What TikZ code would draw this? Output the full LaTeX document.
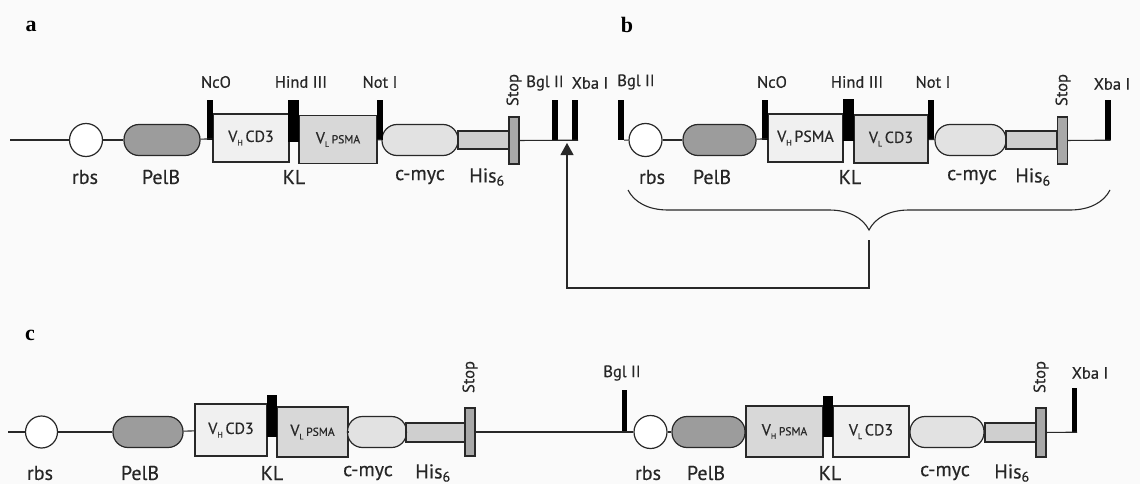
\documentclass[tikz,border=0pt]{standalone}
\usepackage{fontspec}
\setmainfont{PT Sans}
\newfontfamily\labelfont{PT Sans}[FakeBold=0.4]
\newfontfamily\panelfont{Liberation Serif}
\usetikzlibrary{arrows.meta,positioning,decorations.pathreplacing}
\definecolor{bggray}{RGB}{250,250,250}
\definecolor{linegray}{RGB}{40,40,40}
\definecolor{pelbgray}{RGB}{156,156,156}
\definecolor{cdlight}{RGB}{240,240,240}
\definecolor{psmadark}{RGB}{216,216,216}
\definecolor{myclight}{RGB}{226,226,226}
\definecolor{hisgray}{RGB}{207,207,207}
\definecolor{stopgray}{RGB}{168,168,168}
\newcommand{\vsub}[1]{\raisebox{-0.45ex}{\fontsize{8}{9}\selectfont #1}}
\newcommand{\psmasmall}{{\fontsize{11.5}{13}\selectfont PSMA}}
\tikzset{
    backbone/.style={draw=linegray, line width=1.1pt},
    rbsnode/.style={circle, draw=linegray, line width=1.2pt, fill=white, minimum size=33pt, inner sep=0pt},
    pillnode/.style={draw=linegray, line width=1.2pt, rounded corners=15pt, minimum height=31pt, inner sep=0pt},
    vbox/.style={draw=linegray, line width=1.2pt, minimum height=48pt, inner sep=0pt, text=linegray, font=\labelfont\fontsize{16}{18}\selectfont},
    hisbox/.style={draw=linegray, line width=1.2pt, fill=hisgray, minimum height=18pt, inner sep=0pt},
    stopbar/.style={draw=linegray, line width=1.2pt, fill=stopgray, minimum width=10pt, minimum height=47pt, inner sep=0pt},
    sitebar/.style={fill=black, minimum width=6pt, minimum height=40pt, inner sep=0pt},
    klbar/.style={fill=black, minimum width=11pt, minimum height=42pt, inner sep=0pt},
    partlabel/.style={font=\labelfont\fontsize{20}{22}\selectfont, text=black!85, inner sep=0pt},
    sitelabel/.style={font=\labelfont\fontsize{16.5}{18}\selectfont, text=black!85, inner sep=0pt},
    panellabel/.style={font=\panelfont\bfseries\fontsize{22}{24}\selectfont, inner sep=0pt},
    linkarrow/.style={draw=linegray, line width=1.1pt, -{Triangle[width=13pt,length=12pt]}}
}

\begin{document}
\begin{tikzpicture}[x=1pt, y=-1pt]
    \fill[bggray] (0,0) rectangle (1140,484);
    \useasboundingbox (0,0) rectangle (1140,484);

    % panel a
    \node[panellabel] (a-tag) at (31,26) {a};
    \coordinate (a-start) at (10,140);
    \node[rbsnode] (a-rbs) at (86,140) {};
    \node[pillnode, minimum width=76pt, fill=pelbgray] (a-pelb) at (162,140) {};
    \node[vbox, minimum width=76pt, fill=cdlight] (a-vh) at (251,138) {V\vsub{H}\,CD3};
    \node[vbox, minimum width=78pt, fill=psmadark] (a-vl) at (338,139.5) {V\vsub{L}\,\psmasmall};
    \node[pillnode, minimum width=76pt, fill=myclight] (a-myc) at (420,140) {};
    \node[hisbox, minimum width=52pt] (a-his) at (484,140) {};
    \node[stopbar] (a-stop) at (514,140.5) {};
    \node[sitebar] (a-nco) at (210,120) {};
    \node[klbar] (a-kl) at (293.5,121) {};
    \node[sitebar] (a-not) at (379.5,120) {};
    \node[sitebar] (a-bgl) at (555,120) {};
    \node[sitebar] (a-xba) at (575,120) {};
    \coordinate (a-insert) at (567,143);
    \foreach \p/\q in {a-start/a-rbs, a-rbs/a-pelb, a-pelb/a-vh, a-vl/a-myc, a-myc/a-his}
        \draw[backbone] (\p) -- (\q);
    \draw[backbone] (a-stop) -- (a-xba.south east);

    \node[sitelabel] (a-nco-l) at (216,82) {NcO};
    \node[sitelabel] (a-kl-l) at (301,82) {Hind III};
    \node[sitelabel] (a-not-l) at (380,82) {Not I};
    \node[sitelabel, rotate=90] (a-stop-l) at (514,90) {Stop};
    \node[sitelabel] (a-bgl-l) at (545,83) {Bgl II};
    \node[sitelabel] (a-xba-l) at (590,83) {Xba I};
    \node[partlabel] (a-rbs-l) at (85,177) {rbs};
    \node[partlabel] (a-pelb-l) at (161,177) {PelB};
    \node[partlabel] (a-kl-b) at (294,177) {KL};
    \node[partlabel] (a-myc-l) at (420,177) {c-myc};
    \node[partlabel] (a-his-l) at (487,177) {His\textsubscript{6}};

    % panel b
    \node[panellabel] (b-tag) at (627,25) {b};
    \node[sitebar] (b-bgl) at (621,120) {};
    \node[rbsnode] (b-rbs) at (645.5,140) {};
    \node[pillnode, minimum width=73pt, fill=pelbgray] (b-pelb) at (719.5,140) {};
    \node[vbox, minimum width=75pt, fill=cdlight] (b-vh) at (805.5,138) {V\vsub{H}\,PSMA};
    \node[vbox, minimum width=74pt, fill=psmadark] (b-vl) at (891,139) {V\vsub{L}\,CD3};
    \node[pillnode, minimum width=71pt, fill=myclight] (b-myc) at (970.5,140) {};
    \node[hisbox, minimum width=51pt] (b-his) at (1031.5,140) {};
    \node[stopbar] (b-stop) at (1062.5,140.5) {};
    \node[sitebar] (b-nco) at (765,120) {};
    \node[klbar] (b-kl) at (848.5,120) {};
    \node[sitebar] (b-not) at (931,120) {};
    \node[sitebar] (b-xba) at (1107.5,120) {};
    \draw[backbone] (b-bgl.south east) -- (b-rbs);
    \foreach \p/\q in {b-rbs/b-pelb, b-pelb/b-vh, b-vl/b-myc, b-myc/b-his}
        \draw[backbone] (\p) -- (\q);
    \draw[backbone] (b-stop) -- (b-xba.south east);

    \node[sitelabel] (b-bgl-l) at (636,82) {Bgl II};
    \node[sitelabel] (b-nco-l) at (772,82) {NcO};
    \node[sitelabel] (b-kl-l) at (857,82) {Hind III};
    \node[sitelabel] (b-not-l) at (933,82) {Not I};
    \node[sitelabel, rotate=90] (b-stop-l) at (1063,90) {Stop};
    \node[sitelabel] (b-xba-l) at (1112,84) {Xba I};
    \node[partlabel] (b-rbs-l) at (652,177) {rbs};
    \node[partlabel] (b-pelb-l) at (712,177) {PelB};
    \node[partlabel] (b-kl-b) at (850,177) {KL};
    \node[partlabel] (b-myc-l) at (972,177) {c-myc};
    \node[partlabel] (b-his-l) at (1033,177) {His\textsubscript{6}};

    % brace and insertion arrow
    \coordinate (b-brace-l) at (628,190);
    \coordinate (b-brace-r) at (1110,190);
    \coordinate (b-brace-tip) at (869,240);
    \draw[backbone, decorate, decoration={brace, mirror, amplitude=40pt}] (b-brace-l) -- (b-brace-r);
    \draw[linkarrow] (b-brace-tip) -- ++(0,48) -| (a-insert);

    % panel c
    \node[panellabel] (c-tag) at (30,335) {c};
    \coordinate (c-start) at (8,432);
    \node[rbsnode, minimum size=32pt] (c-rbs) at (41.5,432) {};
    \node[pillnode, minimum width=70pt, fill=pelbgray] (c-pelb) at (148,432) {};
    \node[vbox, minimum width=72pt, minimum height=52pt, fill=cdlight] (c-vh) at (231,430) {V\vsub{H}\,CD3};
    \node[vbox, minimum width=71pt, minimum height=50pt, fill=psmadark] (c-vl) at (312.5,432) {V\vsub{L}\,\psmasmall};
    \node[pillnode, minimum width=59pt, fill=myclight] (c-myc) at (377,432) {};
    \node[hisbox, minimum width=59pt, minimum height=19pt] (c-his) at (435.5,432.5) {};
    \node[stopbar, minimum height=48pt] (c-stop) at (470,432) {};
    \node[klbar, minimum width=10pt] (c-kl) at (272,416) {};
    \node[sitebar, minimum width=5pt, minimum height=42pt] (c-bgl) at (624.5,411) {};
    \node[rbsnode] (c-rbs2) at (650.5,432) {};
    \node[pillnode, minimum width=73pt, fill=pelbgray] (c-pelb2) at (708.5,432) {};
    \node[vbox, minimum width=77pt, minimum height=51pt, fill=psmadark] (c-vh2) at (784.5,431.5) {V\vsub{H}\,\psmasmall};
    \node[vbox, minimum width=76pt, minimum height=51pt, fill=cdlight] (c-vl2) at (871,431.5) {V\vsub{L}\,CD3};
    \node[pillnode, minimum width=74pt, fill=myclight] (c-myc2) at (947,432) {};
    \node[hisbox, minimum width=52pt, minimum height=19pt] (c-his2) at (1011,432.5) {};
    \node[stopbar, minimum height=49pt] (c-stop2) at (1041,432.5) {};
    \node[klbar, minimum width=10pt, minimum height=41pt] (c-kl2) at (828,416.5) {};
    \node[sitebar, minimum width=5pt, minimum height=44pt] (c-xba) at (1074.5,410) {};
    \foreach \p/\q in {c-start/c-rbs, c-rbs/c-pelb, c-pelb/c-vh, c-vl/c-myc, c-myc/c-his,
                       c-stop/c-rbs2, c-rbs2/c-pelb2, c-pelb2/c-vh2, c-vl2/c-myc2, c-myc2/c-his2}
        \draw[backbone] (\p) -- (\q);
    \draw[backbone] (c-stop2) -- (c-xba.south east);

    \node[sitelabel, rotate=90] (c-stop-l) at (470,377) {Stop};
    \node[sitelabel] (c-bgl-l) at (622,373) {Bgl II};
    \node[sitelabel, rotate=90] (c-stop2-l) at (1041,377) {Stop};
    \node[sitelabel] (c-xba-l) at (1090,373) {Xba I};
    \node[partlabel] (c-rbs-l) at (40,473) {rbs};
    \node[partlabel] (c-pelb-l) at (140,473) {PelB};
    \node[partlabel] (c-kl-b) at (272,473) {KL};
    \node[partlabel] (c-myc-l) at (368,473) {c-myc};
    \node[partlabel] (c-his-l) at (433,473) {His\textsubscript{6}};
    \node[partlabel] (c-rbs2-l) at (648,473) {rbs};
    \node[partlabel] (c-pelb2-l) at (706,473) {PelB};
    \node[partlabel] (c-kl2-b) at (830,473) {KL};
    \node[partlabel] (c-myc2-l) at (945,473) {c-myc};
    \node[partlabel] (c-his2-l) at (1012,473) {His\textsubscript{6}};
\end{tikzpicture}
\end{document}
